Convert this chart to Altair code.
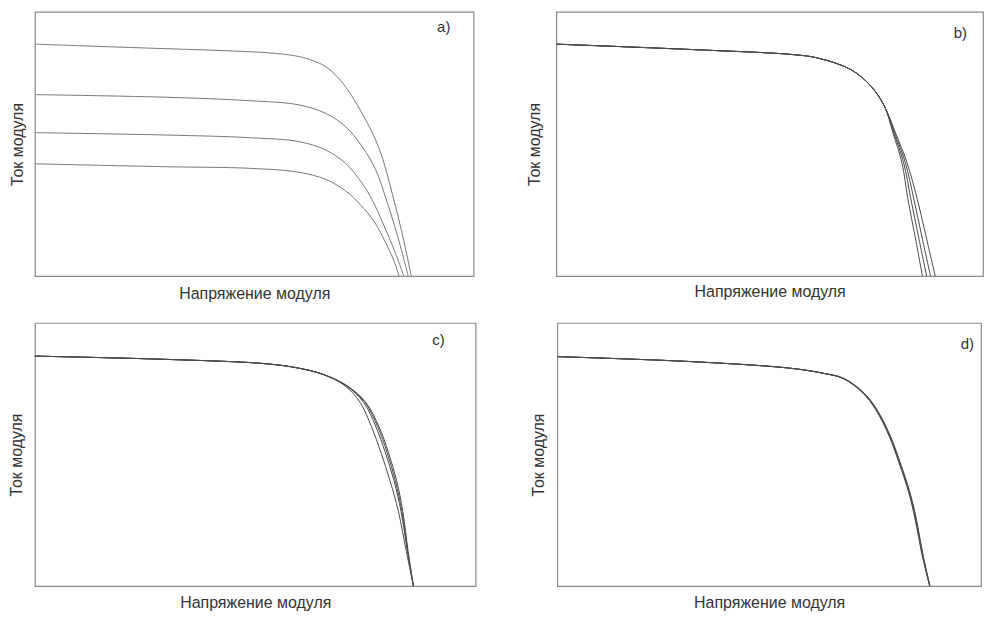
import altair as alt
import pandas as pd

# ---------------- data (normalised units: voltage 0..100, current 0..100) -------------
# panel a) - four irradiance levels
a1_u = [0, 22.3, 45.1, 54.9, 60.2, 63.3, 66.3, 68.6, 70.8, 74.7, 78.5, 81.5, 83.8, 85.8]
a1_i = [87.8, 86.5, 85.2, 84.3, 83.1, 81.6, 79.3, 76.0, 71.7, 61.3, 48.2, 31.0, 15.5, 0]
a2_u = [0, 29.9, 48.9, 60.2, 66.3, 70.8, 74.6, 77.7, 79.9, 82.7, 85.1]
a2_i = [68.7, 67.7, 66.4, 64.8, 61.6, 56.6, 49.0, 40.2, 30.0, 15.0, 0]
a3_u = [0, 29.9, 48.9, 60.2, 66.3, 70.8, 74.6, 76.9, 79.6, 82.0, 84.1]
a3_i = [54.3, 53.4, 52.4, 50.9, 47.7, 42.7, 35.1, 28.8, 19.0, 9.5, 0]
a4_u = [0, 29.9, 48.9, 60.2, 66.3, 70.8, 74.2, 77.4, 80.0, 81.8, 83.0]
a4_i = [42.5, 41.4, 40.8, 39.3, 36.6, 32.3, 27.0, 20.5, 12.5, 6.0, 0]

# panel b)
b1_u = [0, 32.6, 55.8, 61.4, 69.1, 73.8, 76.9, 78.9, 81.0, 82.4, 84.2, 85.8]
b2_u = [0, 32.6, 55.8, 61.4, 69.1, 73.8, 76.9, 79.1, 81.4, 83.1, 85.0, 86.8]
b3_u = [0, 32.6, 55.8, 61.4, 69.1, 73.8, 76.9, 79.3, 81.8, 83.8, 85.8, 87.7]
b4_u = [0, 32.6, 55.8, 61.4, 69.1, 73.8, 76.9, 79.5, 82.2, 84.6, 86.8, 88.8]
b_i = [87.8, 85.7, 83.8, 82.5, 78.1, 71.8, 64.3, 54.2, 42.9, 29.1, 14.0, 0]

# panel c)
c1_u = [0, 29.1, 51.7, 59.3, 65.25, 70.4, 73.8, 76.4, 78.5, 80.6, 82.5, 84.3, 85.9]
c2_u = [0, 29.1, 51.7, 59.3, 65.3, 70.7, 74.6, 77.4, 79.5, 81.5, 83.1, 84.55, 85.9]
c3_u = [0, 29.1, 51.7, 59.3, 65.35, 70.8, 74.9, 77.8, 79.9, 81.8, 83.3, 84.6, 85.9]
c4_u = [0, 29.1, 51.7, 59.3, 65.4, 70.9, 75.1, 78.1, 80.2, 82.1, 83.5, 84.7, 85.9]
c_i = [87.4, 86.2, 84.6, 83.0, 80.5, 76.1, 69.8, 60.5, 50.9, 40.0, 28.3, 13.2, 0]

# panel d)
d1_u = [0, 31.8, 55.0, 62.7, 67.5, 72.2, 75.2, 78.4, 80.7, 83.0, 84.5, 86.3, 87.9]
d2_u = [0, 31.8, 55.0, 62.7, 67.6, 72.3, 75.3, 78.5, 80.8, 83.1, 84.6, 86.4, 87.9]
d3_u = [0, 31.8, 55.0, 62.7, 67.4, 72.1, 75.1, 78.3, 80.6, 82.9, 84.4, 86.2, 87.9]
d4_u = [0, 31.8, 55.0, 62.7, 67.7, 72.4, 75.4, 78.6, 80.9, 83.2, 84.7, 86.4, 88.0]
d_i = [87.2, 85.3, 82.8, 80.9, 78.9, 73.4, 67.2, 57.1, 47.1, 35.8, 25.8, 11.0, 0]

labels = ["a)", "b)", "c)", "d)"]
label_u = [93.2, 94.7, 91.6, 96.8]
label_i = [94.3, 92.1, 93.6, 92.1]

X_TITLE = "Напряжение модуля"
Y_TITLE = "Ток модуля"


def curves_df(pairs):
    rows = []
    for ci, (us, iis) in enumerate(pairs):
        for k, (u, i) in enumerate(zip(us, iis)):
            rows.append({"curve": ci, "k": k, "u": u, "i": i})
    return pd.DataFrame(rows)


def panel(pairs, idx, width, height, color, ytp, xtp):
    df = curves_df(pairs)
    x = alt.X("u:Q", scale=alt.Scale(domain=[0, 100], nice=False),
              axis=alt.Axis(title=X_TITLE, labels=False, ticks=False, grid=False,
                            domain=False, titlePadding=xtp))
    y = alt.Y("i:Q", scale=alt.Scale(domain=[0, 100], nice=False),
              axis=alt.Axis(title=Y_TITLE, labels=False, ticks=False, grid=False,
                            domain=False, titlePadding=ytp))
    lines = alt.Chart(df).mark_line(interpolate="catmull-rom", strokeWidth=1, color=color).encode(
        x=x, y=y, detail="curve:N", order="k:Q")
    ldf = pd.DataFrame({"t": [labels[idx]], "u": [label_u[idx]], "i": [label_i[idx]]})
    txt = alt.Chart(ldf).mark_text(fontSize=15, color="#333", font="Liberation Sans").encode(
        x="u:Q", y="i:Q", text="t:N")
    return (lines + txt).properties(width=width, height=height)


pa = panel([(a1_u, a1_i), (a2_u, a2_i), (a3_u, a3_i), (a4_u, a4_i)], 0, 440, 265, "#777777", 9, 9)
pb = panel([(b1_u, b_i), (b2_u, b_i), (b3_u, b_i), (b4_u, b_i)], 1, 428, 265, "#4a4a4a", 14, 7)
pc = panel([(c1_u, c_i), (c2_u, c_i), (c3_u, c_i), (c4_u, c_i)], 2, 442, 264, "#4a4a4a", 10, 8)
pd_ = panel([(d1_u, d_i), (d2_u, d_i), (d3_u, d_i), (d4_u, d_i)], 3, 425, 264, "#4a4a4a", 11, 8)

chart = alt.vconcat(
    alt.hconcat(pa, pb, spacing=51),
    alt.hconcat(pc, pd_, spacing=53),
    spacing=20,
).properties(
    padding={"left": 0, "top": 2, "right": 0, "bottom": 0},
    background="white",
).configure_view(
    stroke="#8a8a8a", strokeWidth=1.2
).configure_axis(
    titleFont="Liberation Sans", titleFontSize=16, titleFontWeight="normal", titleColor="#333"
)

chart.save("out.html", embed_options={"renderer": "svg", "actions": False})
